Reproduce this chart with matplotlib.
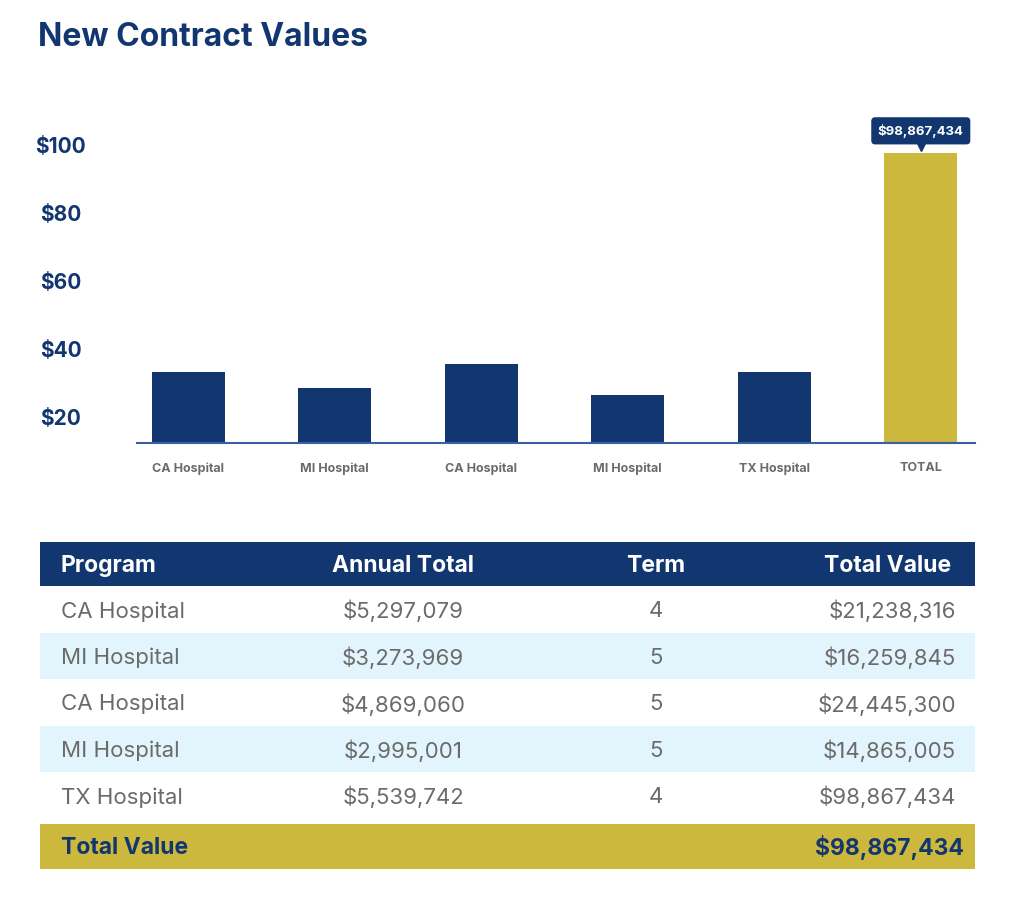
import matplotlib
matplotlib.use("Agg")
import matplotlib.pyplot as plt
from matplotlib import transforms

plt.rcParams['font.family'] = ['Inter', 'DejaVu Sans']

NAVY = '#12366f'
GOLD = '#cdb83e'
GRAY = '#6b6b6b'
LIGHT = '#e2f4fc'

# chart data (values in $M)
bar_labels = ['CA Hospital', 'MI Hospital', 'CA Hospital', 'MI Hospital', 'TX Hospital', 'TOTAL']
bar_values = [33.2, 28.7, 35.8, 26.6, 33.3, 97.6]
y_ticks = [20, 40, 60, 80, 100]
total_label = '$98,867,434'

# table data
programs = ['CA Hospital', 'MI Hospital', 'CA Hospital', 'MI Hospital', 'TX Hospital']
annual_totals = ['$5,297,079', '$3,273,969', '$4,869,060', '$2,995,001', '$5,539,742']
terms = ['4', '5', '5', '5', '4']
total_values = ['$21,238,316', '$16,259,845', '$24,445,300', '$14,865,005', '$98,867,434']
headers = ['Program', 'Annual Total', 'Term', 'Total Value']
grand_total = '$98,867,434'

W, H = 1024, 914
fig = plt.figure(figsize=(W / 100, H / 100), dpi=100)
fig.patch.set_facecolor('white')

fig.text(38 / W, 1 - 38 / H, 'New Contract Values', fontsize=23, fontweight='bold',
         color=NAVY, ha='left', va='center')

# ---- bar chart ----
ax = fig.add_axes([137 / W, 1 - 443 / H, (975 - 137) / W, (443 - 120) / H])
x = range(len(bar_values))
colors = [NAVY] * (len(bar_values) - 1) + [GOLD]
ax.bar(x, bar_values, width=0.5, color=colors, zorder=2)
ax.set_xlim(-0.35, len(bar_values) - 1 + 0.37)
ax.set_ylim(12.5, 107.3)
ax.set_yticks(y_ticks)
ax.set_yticklabels(['$%d' % v for v in y_ticks], fontsize=15, fontweight='bold',
                   color=NAVY, ha='center')
ax.tick_params(axis='y', length=0, pad=55)
ax.set_xticks(list(x))
ax.set_xticklabels(bar_labels, fontsize=9, fontweight='bold', color=GRAY)
ax.tick_params(axis='x', length=0, pad=14)
for s in ['top', 'right', 'left']:
    ax.spines[s].set_visible(False)
ax.spines['bottom'].set_color('#3a5fa3')
ax.spines['bottom'].set_linewidth(1.5)

# callout above total bar
i_tot = len(bar_values) - 1
ax.annotate(total_label, xy=(i_tot, bar_values[-1]), xytext=(0, 16),
            textcoords='offset points', ha='center', va='center',
            fontsize=9.5, fontweight='bold', color='white', annotation_clip=False,
            bbox=dict(boxstyle='round,pad=0.5,rounding_size=0.3', fc=NAVY, ec='none'))
tri = transforms.offset_copy(ax.transData, fig=fig, x=0, y=5.5, units='points')
ax.plot([i_tot], [bar_values[-1]], marker='v', ms=9, color=NAVY, transform=tri,
        clip_on=False, zorder=3)

# ---- table ----
tab = fig.add_axes([0, 0, 1, 1])
tab.set_xlim(0, W)
tab.set_ylim(H, 0)
tab.axis('off')

left, right = 40, 975
col_x = [61, 403, 656, 956]
col_ha = ['left', 'center', 'center', 'right']

top, hdr_h, row_h = 542, 44, 46.5
tab.add_patch(plt.Rectangle((left, top), right - left, hdr_h, fc=NAVY, ec='none'))
for cx, ha, h in zip(col_x, col_ha, headers):
    hx = cx - 5 if ha == 'right' else cx
    tab.text(hx, top + hdr_h / 2 + 2, h, fontsize=16.5, fontweight='bold', color='white',
             ha=ha, va='center')

rows = list(zip(programs, annual_totals, terms, total_values))
y0 = top + hdr_h
for r, row in enumerate(rows):
    ry = y0 + r * row_h
    if r % 2 == 1:
        tab.add_patch(plt.Rectangle((left, ry), right - left, row_h, fc=LIGHT, ec='none'))
    for cx, ha, val in zip(col_x, col_ha, row):
        tab.text(cx, ry + row_h / 2 + 2, val, fontsize=16, color=GRAY, ha=ha, va='center')

ty = y0 + len(rows) * row_h + 5
tab.add_patch(plt.Rectangle((left, ty), right - left, 45, fc=GOLD, ec='none'))
tab.text(col_x[0], ty + 24, 'Total Value', fontsize=16.5, fontweight='bold', color=NAVY,
         ha='left', va='center')
tab.text(964, ty + 24, grand_total, fontsize=16.5, fontweight='bold', color=NAVY,
         ha='right', va='center')

fig.savefig('out.png', dpi=100)
